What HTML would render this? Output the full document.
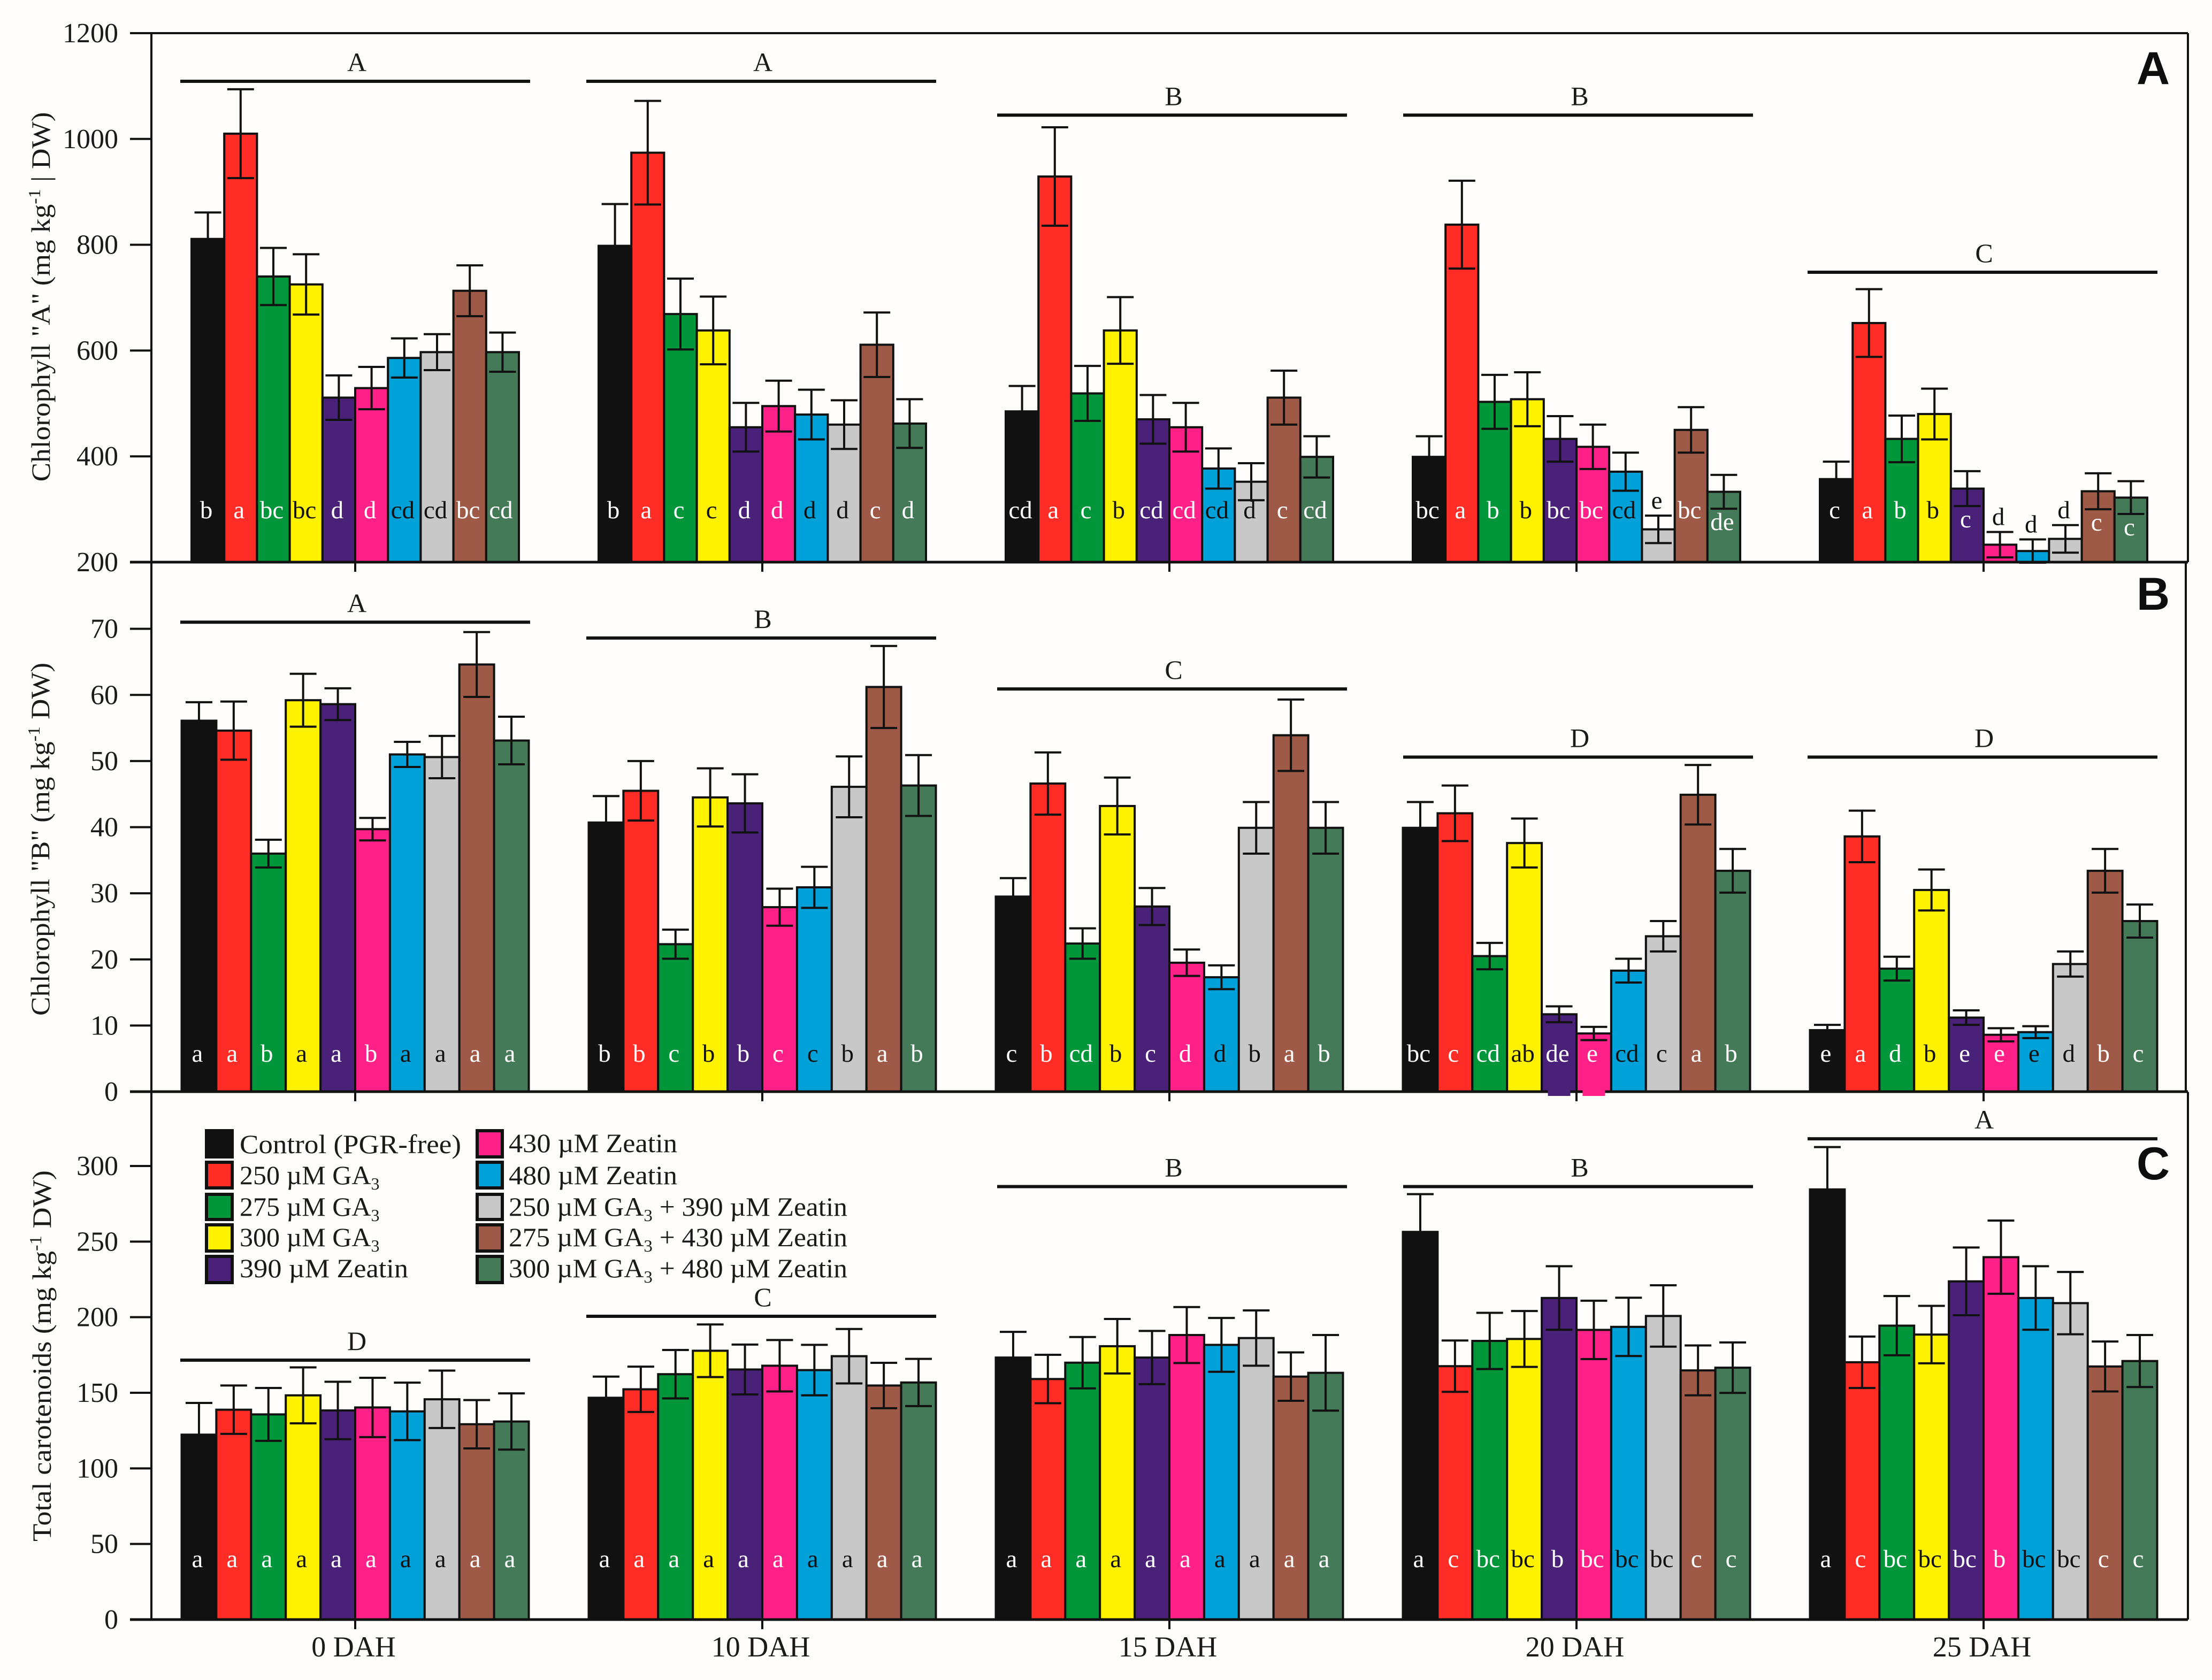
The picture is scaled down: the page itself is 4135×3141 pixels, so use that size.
<!DOCTYPE html>
<html lang="en">
<head>
<meta charset="utf-8">
<title>Chlorophyll and carotenoid content by treatment</title>
<style>
html,body{margin:0;padding:0;background:#fefdfb;}
svg{display:block;}
text{font-family:"Liberation Serif",serif;fill:#1a1a1a;}
.title{font-size:50px;text-anchor:middle;}
.leg{font-size:50px;}
.plate{font-family:"Liberation Sans",sans-serif;font-weight:bold;font-size:86px;text-anchor:middle;fill:#0d0d0d;}
</style>
</head>
<body>
<svg id="chart" xmlns="http://www.w3.org/2000/svg" width="4135" height="3141" viewBox="0 0 4135 3141">
  <rect x="0" y="0" width="4135" height="3141" fill="#fefdfb"/>
  <g id="marks"></g>

  <text class="title" transform="translate(93,555) rotate(-90)" textLength="691" lengthAdjust="spacingAndGlyphs">Chlorophyll "A" (mg kg<tspan dy="-18" font-size="32">-1</tspan><tspan dy="18"> | DW)</tspan></text>
  <text class="title" transform="translate(92,1569) rotate(-90)" textLength="660" lengthAdjust="spacingAndGlyphs">Chlorophyll "B" (mg kg<tspan dy="-18" font-size="32">-1</tspan><tspan dy="18"> DW)</tspan></text>
  <text class="title" transform="translate(95,2535) rotate(-90)" textLength="694" lengthAdjust="spacingAndGlyphs">Total carotenoids (mg kg<tspan dy="-18" font-size="32">-1</tspan><tspan dy="18"> DW)</tspan></text>

  <text class="plate" x="4025" y="157">A</text>
  <text class="plate" x="4025" y="1140">B</text>
  <text class="plate" x="4025" y="2205">C</text>

  <g>
    <rect x="386" y="2114" width="48" height="49" fill="#111111" stroke="#111" stroke-width="6"/>
    <text class="leg" x="448" y="2156" textLength="414" lengthAdjust="spacingAndGlyphs">Control (PGR-free)</text>
    <rect x="386" y="2173" width="48" height="48" fill="#ff2d26" stroke="#111" stroke-width="6"/>
    <text class="leg" x="448" y="2214">250 µM GA<tspan dy="10" font-size="32">3</tspan></text>
    <rect x="386" y="2233" width="48" height="47" fill="#009639" stroke="#111" stroke-width="6"/>
    <text class="leg" x="448" y="2273">275 µM GA<tspan dy="10" font-size="32">3</tspan></text>
    <rect x="386" y="2290" width="48" height="49" fill="#fff200" stroke="#111" stroke-width="6"/>
    <text class="leg" x="448" y="2330">300 µM GA<tspan dy="10" font-size="32">3</tspan></text>
    <rect x="386" y="2349" width="48" height="49" fill="#4a2178" stroke="#111" stroke-width="6"/>
    <text class="leg" x="448" y="2388" textLength="315" lengthAdjust="spacingAndGlyphs">390 µM Zeatin</text>
    <rect x="892" y="2114" width="47" height="49" fill="#ff2088" stroke="#111" stroke-width="6"/>
    <text class="leg" x="951" y="2154" textLength="315" lengthAdjust="spacingAndGlyphs">430 µM Zeatin</text>
    <rect x="892" y="2173" width="47" height="48" fill="#00a0d8" stroke="#111" stroke-width="6"/>
    <text class="leg" x="951" y="2214" textLength="315" lengthAdjust="spacingAndGlyphs">480 µM Zeatin</text>
    <rect x="892" y="2233" width="47" height="47" fill="#c8c8c8" stroke="#111" stroke-width="6"/>
    <text class="leg" x="951" y="2273" textLength="633" lengthAdjust="spacingAndGlyphs">250 µM GA<tspan dy="10" font-size="32">3</tspan><tspan dy="-10"> + 390 µM Zeatin</tspan></text>
    <rect x="892" y="2290" width="47" height="49" fill="#9e5a47" stroke="#111" stroke-width="6"/>
    <text class="leg" x="951" y="2330" textLength="633" lengthAdjust="spacingAndGlyphs">275 µM GA<tspan dy="10" font-size="32">3</tspan><tspan dy="-10"> + 430 µM Zeatin</tspan></text>
    <rect x="892" y="2349" width="47" height="49" fill="#447a58" stroke="#111" stroke-width="6"/>
    <text class="leg" x="951" y="2388" textLength="633" lengthAdjust="spacingAndGlyphs">300 µM GA<tspan dy="10" font-size="32">3</tspan><tspan dy="-10"> + 480 µM Zeatin</tspan></text>
  </g>
</svg>

<script>
const categories = ['0 DAH', '10 DAH', '15 DAH', '20 DAH', '25 DAH'];
const treatments = ['control', '250-ga3', '275-ga3', '300-ga3', '390-zeatin', '430-zeatin', '480-zeatin', '250-ga3-390-zeatin', '275-ga3-430-zeatin', '300-ga3-480-zeatin'];

const chlaTicks = [200, 400, 600, 800, 1000, 1200];
const chlaValues = [
  [811, 1010, 740, 725, 511, 529, 586, 597, 713, 597],
  [798, 974, 669, 638, 455, 495, 479, 460, 611, 462],
  [485, 929, 519, 638, 470, 455, 377, 352, 511, 399],
  [399, 838, 503, 508, 433, 418, 371, 262, 450, 333],
  [357, 652, 433, 480, 339, 233, 221, 244, 334, 322]
];
const chlaErrors = [
  [50, 84, 54, 57, 42, 40, 37, 34, 48, 37],
  [79, 98, 67, 64, 46, 48, 47, 46, 61, 46],
  [48, 93, 52, 63, 46, 46, 38, 35, 51, 39],
  [39, 83, 51, 51, 43, 42, 36, 26, 43, 32],
  [33, 64, 44, 48, 33, 24, 22, 26, 34, 31]
];
const chlaLetters = [
  ['b', 'a', 'bc', 'bc', 'd', 'd', 'cd', 'cd', 'bc', 'cd'],
  ['b', 'a', 'c', 'c', 'd', 'd', 'd', 'd', 'c', 'd'],
  ['cd', 'a', 'c', 'b', 'cd', 'cd', 'cd', 'd', 'c', 'cd'],
  ['bc', 'a', 'b', 'b', 'bc', 'bc', 'cd', 'e', 'bc', 'de'],
  ['c', 'a', 'b', 'b', 'c', 'd', 'd', 'd', 'c', 'c']
];
const chlaGroupLetters = ['A', 'A', 'B', 'B', 'C'];
const chlaGroupLevels = [1109, 1109, 1045, 1045, 748];

const chlbTicks = [0, 10, 20, 30, 40, 50, 60, 70];
const chlbValues = [
  [56.1, 54.6, 36, 59.2, 58.6, 39.7, 51, 50.6, 64.6, 53.1],
  [40.7, 45.5, 22.3, 44.5, 43.6, 27.9, 30.9, 46.1, 61.2, 46.3],
  [29.5, 46.6, 22.4, 43.2, 28, 19.5, 17.3, 39.9, 53.9, 39.9],
  [39.9, 42.1, 20.5, 37.6, 11.7, 8.8, 18.3, 23.5, 44.9, 33.4],
  [9.3, 38.6, 18.6, 30.5, 11.2, 8.6, 9, 19.3, 33.4, 25.8]
];
const chlbErrors = [
  [2.8, 4.4, 2.1, 4, 2.4, 1.7, 1.9, 3.2, 4.9, 3.6],
  [4, 4.5, 2.2, 4.4, 4.4, 2.8, 3.1, 4.6, 6.2, 4.6],
  [2.8, 4.7, 2.3, 4.3, 2.8, 2, 1.8, 3.9, 5.4, 3.9],
  [3.9, 4.2, 2, 3.7, 1.2, 1, 1.8, 2.3, 4.5, 3.3],
  [0.8, 3.9, 1.8, 3.1, 1.1, 1, 0.9, 1.9, 3.3, 2.5]
];
const chlbLetters = [
  ['a', 'a', 'b', 'a', 'a', 'b', 'a', 'a', 'a', 'a'],
  ['b', 'b', 'c', 'b', 'b', 'c', 'c', 'b', 'a', 'b'],
  ['c', 'b', 'cd', 'b', 'c', 'd', 'd', 'b', 'a', 'b'],
  ['bc', 'c', 'cd', 'ab', 'de', 'e', 'cd', 'c', 'a', 'b'],
  ['e', 'a', 'd', 'b', 'e', 'e', 'e', 'd', 'b', 'c']
];
const chlbGroupLetters = ['A', 'B', 'C', 'D', 'D'];
const chlbGroupLevels = [71, 68.6, 60.9, 50.6, 50.6];

const carTicks = [0, 50, 100, 150, 200, 250, 300];
const carValues = [
  [122.3, 138.8, 135.7, 148.3, 138.3, 140.3, 137.7, 145.7, 129.2, 131],
  [146.7, 152.3, 162.3, 177.8, 165.4, 167.9, 165, 174.2, 154.8, 156.8],
  [173.3, 159.1, 169.9, 180.8, 173.3, 188.2, 181.7, 186.2, 160.7, 163.2],
  [256.4, 167.6, 184.3, 185.6, 212.7, 191.6, 193.6, 200.8, 164.8, 166.6],
  [284.5, 170.2, 194.4, 188.5, 223.7, 239.7, 212.7, 209.3, 167.4, 171]
];
const carErrors = [
  [21, 16, 17.5, 18.5, 19, 19.6, 19, 19, 16, 18.6],
  [14, 15, 16, 17.4, 16.5, 17, 16.7, 18, 15, 15.6],
  [17, 16, 17, 18, 17.6, 18.5, 17.8, 18.3, 16, 25],
  [25, 17, 18.6, 18.5, 21, 19.3, 19.3, 20.3, 16.5, 16.7],
  [28, 17, 19.6, 19, 22.4, 24.2, 21, 20.6, 16.5, 17.2]
];
const carLetters = [
  ['a', 'a', 'a', 'a', 'a', 'a', 'a', 'a', 'a', 'a'],
  ['a', 'a', 'a', 'a', 'a', 'a', 'a', 'a', 'a', 'a'],
  ['a', 'a', 'a', 'a', 'a', 'a', 'a', 'a', 'a', 'a'],
  ['a', 'c', 'bc', 'bc', 'b', 'bc', 'bc', 'bc', 'c', 'c'],
  ['a', 'c', 'bc', 'bc', 'bc', 'b', 'bc', 'bc', 'c', 'c']
];
const carGroupLetters = ['D', 'C', 'B', 'B', 'A'];
const carGroupLevels = [171.6, 200.6, 286.4, 286.4, 318];

const NS = 'http://www.w3.org/2000/svg';
const marks = document.getElementById('marks');
const fills = ['#111111', '#ff2d26', '#009639', '#fff200', '#4a2178', '#ff2088', '#00a0d8', '#c8c8c8', '#9e5a47', '#447a58'];
const darkText = [false, false, false, true, false, false, true, true, false, false];
const INK = '#111111';
const axisLeft = 283, axisRight = 4090, tickLeft = 243;
const firstGroupX = 664, groupPitch = 761;
const bracketPitch = 761, bracketDrift = [0, -2, 5, 3, -2];

function groupX(g) { return firstGroupX + g * groupPitch; }
function bracketX(g) { return firstGroupX + g * bracketPitch + bracketDrift[g]; }
function linearScale(d0, d1, r0, r1) { return function (v) { return r0 + (v - d0) * (r1 - r0) / (d1 - d0); }; }

function newLine(x1, y1, x2, y2, w, parent) {
  const l = document.createElementNS(NS, 'line');
  l.setAttribute('x1', x1);
  l.setAttribute('y1', y1);
  l.setAttribute('x2', x2);
  l.setAttribute('y2', y2);
  l.setAttribute('stroke', INK);
  l.setAttribute('stroke-width', w);
  parent.appendChild(l);
  return l;
}
function newText(str, x, y, size, anchor, color, parent) {
  const t = document.createElementNS(NS, 'text');
  t.textContent = str;
  t.setAttribute('x', x);
  t.setAttribute('y', y);
  t.setAttribute('font-size', size);
  t.setAttribute('text-anchor', anchor);
  t.style.fill = color;
  parent.appendChild(t);
  return t;
}

function drawPanel(key, yScale, baseValue, topValue, ticks, values, errors, letters, groupLetters, groupLevels, halfWidth, barWidth, labelBase, rightX) {
  const panel = document.createElementNS(NS, 'g');
  
  
  marks.appendChild(panel);
  const baseY = yScale(baseValue);

  values.forEach(function (groupValues, g) {
    const left = groupX(g) - halfWidth;
    groupValues.forEach(function (v, i) {
      const bar = document.createElementNS(NS, 'rect');
      const x = left + i * barWidth;
      
      
      bar.setAttribute('x', x);
      bar.setAttribute('y', yScale(v));
      bar.setAttribute('width', barWidth);
      bar.setAttribute('height', baseY - yScale(v));
      bar.setAttribute('fill', fills[i]);
      bar.setAttribute('stroke', INK);
      bar.setAttribute('stroke-width', 4);
      panel.appendChild(bar);
    });
    groupValues.forEach(function (v, i) {
      const cx = left + (i + 0.5) * barWidth;
      const e = errors[g][i];
      const topY = yScale(v + e), lowY = yScale(v - e);
      const stem = newLine(cx, topY, cx, lowY, 4, panel);
      
      
      const capTop = newLine(cx - 25, topY, cx + 25, topY, 4, panel);
      
      
      const capLow = newLine(cx - 25, lowY, cx + 25, lowY, 4, panel);
      
      

      let labelY = labelBase;
      let color = darkText[i] ? '#111111' : '#ffffff';
      if (topY > labelBase - 31) {
        labelY = topY - 13;
        color = '#111111';
      } else if (lowY > labelBase - 31) {
        labelY = lowY + 40;
      }
      const label = newText(letters[g][i], cx - 3, labelY, 47, 'middle', color, panel);
      
      
    });

    const levelY = yScale(groupLevels[g]);
    const bracket = newLine(bracketX(g) - 327, levelY, bracketX(g) + 327, levelY, 6, panel);
    
    
    const groupLabel = newText(groupLetters[g], bracketX(g) + 3, levelY - 19, 50, 'middle', '#1a1a1a', panel);
    
    

    const xTick = newLine(groupX(g), baseY, groupX(g), baseY + 18, 4, panel);
    
    
  });

  ticks.forEach(function (t) {
    const y = yScale(t);
    const tickLine = newLine(tickLeft, y, axisLeft, y, 4, panel);
    
    
    const tickLabel = newText(String(t), 221, y + 17, 52, 'end', '#1a1a1a', panel);
    
    
  });

  const baseline = newLine(tickLeft, baseY, axisRight, baseY, 5, panel);
  
  
  const yAxis = newLine(axisLeft, yScale(topValue), axisLeft, baseY, 4, panel);
  
  
  const rightEdge = newLine(rightX, yScale(topValue), rightX, baseY, 4, panel);
  
  
}

const yChla = linearScale(200, 1200, 1051, 62);
const yChlb = linearScale(0, 80, 2041, 1052);
const yCar = linearScale(0, 300, 3028, 2180);

const topBorder = newLine(tickLeft, 62, axisRight, 62, 4, marks);



drawPanel('chlorophyll-a', yChla, 200, 1200, chlaTicks, chlaValues, chlaErrors, chlaLetters, chlaGroupLetters, chlaGroupLevels, 306, 61.2, 969, 4090);
drawPanel('chlorophyll-b', yChlb, 0, 80, chlbTicks, chlbValues, chlbErrors, chlbLetters, chlbGroupLetters, chlbGroupLevels, 324.5, 64.9, 1985, 4086);
drawPanel('carotenoids', yCar, 0, 349, carTicks, carValues, carErrors, carLetters, carGroupLetters, carGroupLevels, 324.5, 64.9, 2930, 4090);

categories.forEach(function (c, g) {
  const xLabel = newText(c, groupX(g) - 3, 3097, 54, 'middle', '#1a1a1a', marks);
  
  
});

[4, 5].forEach(function (i) {
  const stub = document.createElementNS(NS, 'rect');
  
  
  stub.setAttribute('x', groupX(3) - 324.5 + (i + 0.5) * 64.9 - 21);
  stub.setAttribute('y', yChlb(0) - 3);
  stub.setAttribute('width', 42);
  stub.setAttribute('height', 11);
  stub.setAttribute('fill', fills[i]);
  marks.appendChild(stub);
});
</script>
</body>
</html>
